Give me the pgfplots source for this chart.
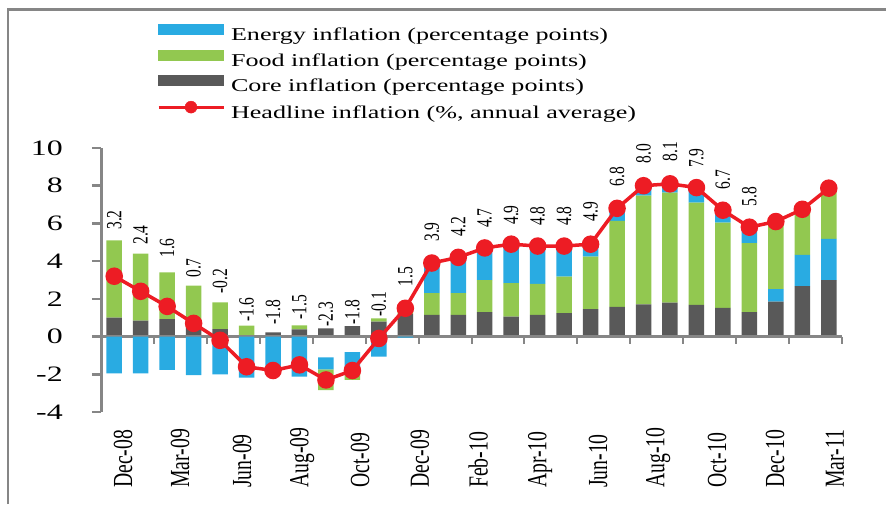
\documentclass[border=0pt]{standalone}
\usepackage{fontspec}
\setmainfont{Liberation Serif}
\usepackage{graphicx}
\usepackage{pgfplots}
\pgfplotsset{compat=1.18}
\definecolor{energyc}{HTML}{29ABE2}
\definecolor{foodc}{HTML}{92C850}
\definecolor{corec}{HTML}{595959}
\definecolor{headc}{HTML}{ED1C24}
\definecolor{axc}{HTML}{868686}
\newcommand\fs[1]{\fontsize{#1}{#1}\selectfont}
\pgfplotsset{base/.style={scale only axis, width=741pt, height=264pt,
  xmin=-0.5, xmax=27.5, ymin=-4, ymax=10, at={(101pt,92pt)}, anchor=south west, clip=false}}
\begin{document}
\begin{tikzpicture}
\useasboundingbox (0,0) rectangle (886pt,504pt);
\draw[axc, line width=2.7pt] (8pt,0pt) -- (8pt,494.5pt) -- (886pt,494.5pt);
% ---------- positive contributions ----------
\begin{axis}[base, ybar stacked, bar width=15.5pt,
  axis lines=left, axis line style={-},
  x axis line style={draw=none},
  y axis line style={axc, line width=3pt},
  tick align=outside, major tick length=9pt,
  ytick={-4,-2,0,2,4,6,8,10}, yticklabels={-4,-2,0,2,4,6,8,10},
  ytick style={axc, line width=2.5pt},
  xtick={0.33,2.49,4.83,7.1,9.29,11.55,13.75,16.09,18.28,20.55,22.78,24.97,27.23},
  xticklabels={Dec-08,Mar-09,Jun-09,Aug-09,Oct-09,Dec-09,Feb-10,Apr-10,Jun-10,Aug-10,Oct-10,Dec-10,Mar-11},
  xtick style={draw=none},
  yticklabel style={anchor=east, inner sep=0pt, xscale=1.45, font=\fs{22}, xshift=-20pt},
  xticklabel style={xscale=1.4, rotate=90, anchor=west, inner sep=0pt, font=\fs{19.7}, xshift=-67pt},
]
% core
\addplot[fill=corec, draw=none] coordinates {
(0,1.0)(1,0.85)(2,0.92)(3,0.5)(4,0.4)(5,0.0)(6,0.22)(7,0.38)(8,0.44)(9,0.56)
(10,0.79)(11,1.2)(12,1.15)(13,1.15)(14,1.29)(15,1.06)(16,1.15)(17,1.24)(18,1.45)(19,1.57)
(20,1.71)(21,1.8)(22,1.68)(23,1.52)(24,1.3)(25,1.85)(26,2.68)(27,3.0)};
% energy (stacked under food, last months)
\addplot[fill=energyc, draw=none] coordinates {
(0,0)(1,0)(2,0)(3,0)(4,0)(5,0)(6,0)(7,0)(8,0)(9,0)
(10,0)(11,0)(12,0)(13,0)(14,0)(15,0)(16,0)(17,0)(18,0)(19,0)
(20,0)(21,0)(22,0)(23,0)(24,0)(25,0.66)(26,1.65)(27,2.18)};
% food
\addplot[fill=foodc, draw=none] coordinates {
(0,4.1)(1,3.55)(2,2.49)(3,2.2)(4,1.42)(5,0.58)(6,0)(7,0.22)(8,0)(9,0)
(10,0.17)(11,0.3)(12,1.15)(13,1.15)(14,1.71)(15,1.77)(16,1.64)(17,1.94)(18,2.79)(19,4.56)
(20,5.76)(21,5.84)(22,5.42)(23,4.52)(24,3.65)(25,3.5)(26,2.4)(27,2.65)};
% energy (on top)
\addplot[fill=energyc, draw=none] coordinates {
(0,0)(1,0)(2,0)(3,0)(4,0)(5,0)(6,0)(7,0)(8,0)(9,0)
(10,0)(11,0)(12,1.6)(13,1.9)(14,1.65)(15,2.0)(16,1.95)(17,1.6)(18,0.62)(19,0.6)
(20,0.45)(21,0.4)(22,0.75)(23,0.6)(24,0.8)(25,0)(26,0)(27,0)};
\end{axis}
% ---------- negative contributions ----------
\begin{axis}[base, hide axis, ybar stacked, bar width=15.5pt]
\addplot[fill=none, draw=none] coordinates {
(0,0)(1,0)(2,0)(3,0)(4,0)(5,0)(6,0)(7,0)(8,-1.1)(9,-0.83)(10,0)(11,0)};
\addplot[fill=energyc, draw=none] coordinates {
(0,-1.95)(1,-1.95)(2,-1.77)(3,-2.04)(4,-2.0)(5,-2.18)(6,-2.0)(7,-2.12)(8,-0.64)(9,-0.94)(10,-1.06)(11,-0.05)};
\addplot[fill=foodc, draw=none] coordinates {
(0,0)(1,0)(2,0)(3,0)(4,0)(5,0)(6,0)(7,0)(8,-1.1)(9,-0.53)(10,0)(11,0)};
\draw[axc, line width=2.5pt] (axis cs:-0.5,0) -- (axis cs:27.5,0);
\pgfplotsinvokeforeach{1.5,3.5,5.5,7.5,9.5,11.5,13.5,15.5,17.5,19.5,21.5,23.5,25.5,27.5}{
  \draw[axc, line width=2pt] (axis cs:#1,0) -- ([yshift=-7pt]axis cs:#1,0);}
\end{axis}
% ---------- headline ----------
\begin{axis}[base, hide axis, legend cell align=left,
  legend style={at={(0.07557,1.468)}, anchor=north west, draw=none, fill=none,
    inner sep=0pt, outer sep=0pt, row sep=5.1pt,
    nodes={inner sep=0pt, text height=13pt, text depth=4pt, font=\fs{18}},
    /tikz/every odd column/.append style={column sep=6pt}}]
\addlegendimage{legend image code/.code={\fill[energyc] (0pt,1.7pt) rectangle (65pt,11.7pt);}}
\addlegendentry{\scalebox{1.45}[1]{Energy inflation (percentage points)}}
\addlegendimage{legend image code/.code={\fill[foodc] (0pt,1.7pt) rectangle (65pt,11.7pt);}}
\addlegendentry{\scalebox{1.45}[1]{Food inflation (percentage points)}}
\addlegendimage{legend image code/.code={\fill[corec] (0pt,1.7pt) rectangle (65pt,11.7pt);}}
\addlegendentry{\scalebox{1.45}[1]{Core inflation (percentage points)}}
\addlegendimage{legend image code/.code={\draw[headc, line width=3pt] (0pt,6.7pt) -- (65pt,6.7pt); \fill[headc] (32.5pt,6.7pt) circle (6pt);}}
\addlegendentry{\scalebox{1.45}[1]{Headline inflation (\%, annual average)}}
\addplot[forget plot, headc, line width=3.5pt, mark=*, mark size=7pt,
  mark options={fill=headc, draw=none}] coordinates {
(0,3.2)(1,2.4)(2,1.6)(3,0.7)(4,-0.2)(5,-1.6)(6,-1.8)(7,-1.5)(8,-2.3)(9,-1.8)
(10,-0.1)(11,1.5)(12,3.9)(13,4.2)(14,4.7)(15,4.9)(16,4.8)(17,4.8)(18,4.9)(19,6.8)
(20,8.0)(21,8.1)(22,7.9)(23,6.7)(24,5.8)(25,6.1)(26,6.75)(27,7.87)};
\addplot[forget plot, draw=none, mark=none, point meta=explicit symbolic, nodes near coords,
  every node near coord/.append style={xscale=1.4, rotate=90, anchor=west, inner sep=0pt, font=\fs{15.5}, text=black}]
coordinates {
(0,5.66)[3.2] (1,4.86)[2.4] (2,4.17)[1.6] (3,3.11)[0.7] (4,2.26)[-0.2] (5,0.77)[-1.6]
(6,0.62)[-1.8] (7,0.88)[-1.5] (8,0.53)[-2.3] (9,0.62)[-1.8] (10,1.06)[-0.1] (11,2.65)[1.5]
(12,5.02)[3.9] (13,5.30)[4.2] (14,5.75)[4.7] (15,5.92)[4.9] (16,5.87)[4.8] (17,5.87)[4.8]
(18,6.10)[4.9] (19,7.95)[6.8] (20,9.19)[8.0] (21,9.28)[8.1] (22,8.93)[7.9] (23,7.81)[6.7]
(24,6.89)[5.8]};
\end{axis}
\end{tikzpicture}
\end{document}
